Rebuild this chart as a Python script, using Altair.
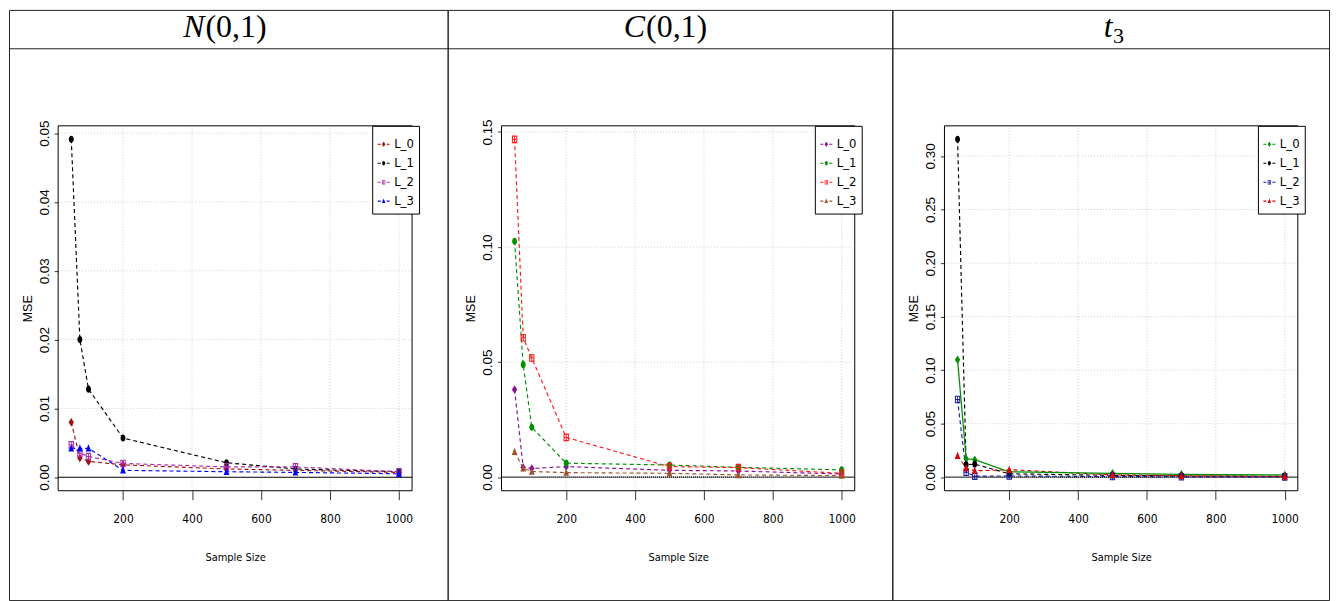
import altair as alt
import pandas as pd

# ---------------- data ----------------
sample_sizes = [50, 75, 100, 200, 500, 700, 1000]
series = ["L_0", "L_1", "L_2", "L_3"]
x_ticks = [200, 400, 600, 800, 1000]

# N(0,1)
normal_L0 = [0.0080, 0.0028, 0.0023, 0.0018, 0.0012, 0.0010, 0.0007]
normal_L1 = [0.0491, 0.0200, 0.0128, 0.0057, 0.0021, 0.0012, 0.0008]
normal_L2 = [0.0047, 0.0035, 0.0030, 0.0020, 0.0015, 0.0015, 0.0008]
normal_L3 = [0.0042, 0.0042, 0.0042, 0.0010, 0.0008, 0.0007, 0.0005]

# C(0,1)
cauchy_L0 = [0.0381, 0.0042, 0.0038, 0.0046, 0.0030, 0.0027, 0.0014]
cauchy_L1 = [0.1025, 0.0489, 0.0217, 0.0061, 0.0053, 0.0043, 0.0032]
cauchy_L2 = [0.1468, 0.0606, 0.0518, 0.0173, 0.0046, 0.0042, 0.0017]
cauchy_L3 = [0.0111, 0.0039, 0.0025, 0.0020, 0.0017, 0.0010, 0.0007]

# t_3
t3_L0 = [0.1098, 0.0172, 0.0164, 0.0050, 0.0037, 0.0027, 0.0022]
t3_L1 = [0.3155, 0.0118, 0.0122, 0.0032, 0.0018, 0.0012, 0.0008]
t3_L2 = [0.0726, 0.0046, 0.0010, 0.0012, 0.0006, 0.0004, 0.0003]
t3_L3 = [0.0200, 0.0085, 0.0060, 0.0070, 0.0022, 0.0014, 0.0008]

y_ticks_normal = [0.0, 0.01, 0.02, 0.03, 0.04, 0.05]
y_ticks_cauchy = [0.0, 0.05, 0.10, 0.15]
y_ticks_t3 = [0.0, 0.05, 0.10, 0.15, 0.20, 0.25, 0.30]

header_main = ["N", "C", "t"]
header_rest = ["(0,1)", "(0,1)", ""]
header_sub = ["", "", "3"]

# ---------------- styling / layout ----------------
NARROW = "Liberation Sans Narrow, DejaVu Sans Condensed, sans-serif"
SANS = "Liberation Sans, Arial, sans-serif"
SERIF = "Liberation Serif, Times New Roman, serif"

HEADER_H = 39
TOTAL_H = 592
BOX_TOP = 77.3 + HEADER_H
BOX_BOTTOM = 443.3 + HEADER_H
X_DOMAIN = [12, 1038]


def ellipse(rx, ry):
    return (f"M{-rx},0A{rx},{ry} 0 1,0 {rx},0A{rx},{ry} 0 1,0 {-rx},0Z")


def diamond(rx, ry):
    return f"M0,{-ry}L{rx},0L0,{ry}L{-rx},0Z"


def triangle(rx, ry):
    return f"M0,{-ry}L{rx},{ry * 0.8}L{-rx},{ry * 0.8}Z"


def sq_plus(rx, ry):
    ix, iy = rx * 0.62, ry * 0.7
    bx, by = rx * 0.16, ry * 0.13
    return (f"M{-rx},{-ry}H{rx}V{ry}H{-rx}Z"
            f"M{-ix},{-iy}V{iy}H{ix}V{-iy}Z"
            f"M{-bx},{-iy}H{bx}V{iy}H{-bx}Z"
            f"M{-ix},{-by}H{ix}V{by}H{-ix}Z")


POINT_SHAPES = [diamond(0.6, 0.95), ellipse(0.55, 0.8), sq_plus(0.6, 0.85), triangle(0.65, 0.9)]
DASHES = "M-1,-0.09H-0.5V0.09H-1Z M0.5,-0.09H1V0.09H0.5Z "
LEGEND_SHAPES = [DASHES + diamond(0.28, 0.45), DASHES + ellipse(0.25, 0.36),
                 DASHES + sq_plus(0.28, 0.38), DASHES + triangle(0.3, 0.42)]

panels = [
    dict(values=[normal_L0, normal_L1, normal_L2, normal_L3],
         colors=["#A01010", "#000000", "#A92CA9", "#0000FF"],
         solid=[], y_ticks=y_ticks_normal, cell_w=440, box=(49.3, 404.3),
         center=216, zero_dash=None),
    dict(values=[cauchy_L0, cauchy_L1, cauchy_L2, cauchy_L3],
         colors=["#8E0E9E", "#009000", "#FF1A1A", "#A0522D"],
         solid=[], y_ticks=y_ticks_cauchy, cell_w=446, box=(54.0, 408.3),
         center=218, zero_dash=[1, 1]),
    dict(values=[t3_L0, t3_L1, t3_L2, t3_L3],
         colors=["#009000", "#000000", "#1A1A9A", "#E00000"],
         solid=["L_0"], y_ticks=y_ticks_t3, cell_w=438, box=(52.3, 406.7),
         center=222, zero_dash=[1, 1]),
]


def header_layers(i, p):
    cw = p["cell_w"]
    c = p["center"]
    df = pd.DataFrame({"main": [header_main[i]], "rest": [header_rest[i]], "sub": [header_sub[i]]})
    base = alt.Chart(df)
    fs = 32
    by = 27
    sep = base.mark_rule(color="#222222", strokeWidth=1).encode(
        x=alt.value(0), x2=alt.value(cw), y=alt.value(HEADER_H))
    if header_rest[i]:
        total = 0.667 * fs + 1.916 * fs
        split = c - total / 2 + 0.667 * fs
        main = base.mark_text(font=SERIF, fontStyle="italic", fontSize=fs, align="right",
                              baseline="alphabetic", color="black").encode(
            text="main:N", x=alt.value(split), y=alt.value(by))
        rest = base.mark_text(font=SERIF, fontSize=fs, align="left", baseline="alphabetic",
                              color="black").encode(
            text="rest:N", x=alt.value(split + 1), y=alt.value(by))
        return [sep, main, rest]
    total = 0.278 * fs + 0.5 * 22
    split = c - total / 2 + 0.278 * fs
    main = base.mark_text(font=SERIF, fontStyle="italic", fontSize=fs, align="right",
                          baseline="alphabetic", color="black").encode(
        text="main:N", x=alt.value(split), y=alt.value(by))
    sub = base.mark_text(font=SERIF, fontSize=22, align="left", baseline="alphabetic",
                         color="black").encode(
        text="sub:N", x=alt.value(split + 0.5), y=alt.value(by + 6))
    return [sep, main, sub]


def make_column(i, p):
    cw = p["cell_w"]
    bx0, bx1 = p["box"]
    rows = []
    for s, vals in zip(series, p["values"]):
        for n, v in zip(sample_sizes, vals):
            rows.append({"n": n, "mse": v, "series": s})
    df = pd.DataFrame(rows)

    ymax = max(max(v) for v in p["values"])
    ylo, yhi = -0.04 * ymax, 1.04 * ymax

    xs = alt.Scale(domain=X_DOMAIN, range=[bx0, bx1], nice=False, zero=False)
    ys = alt.Scale(domain=[ylo, yhi], range=[BOX_BOTTOM, BOX_TOP], nice=False, zero=False)

    x_axis = alt.Axis(values=x_ticks, format="d", grid=False, domain=False, ticks=True,
                      tickSize=9, tickColor="#333", tickWidth=1,
                      labelPadding=14, labelFont=NARROW, labelFontSize=12, labelColor="black",
                      labelFlush=False, labelOverlap=False,
                      offset=BOX_BOTTOM - TOTAL_H,
                      title="Sample Size", titleFont=NARROW, titleFontSize=11,
                      titleFontWeight="normal", titleColor="black",
                      titleY=67, titleBaseline="middle")
    y_axis = alt.Axis(values=p["y_ticks"], format=".2f", grid=False, domain=False, ticks=True,
                      tickSize=4, tickColor="#333", tickWidth=1,
                      labelAngle=270, labelAlign="center", labelBaseline="alphabetic",
                      labelPadding=6, labelFont=SANS, labelFontSize=13.5, labelColor="black",
                      labelFlush=False, labelOverlap=False,
                      offset=-bx0,
                      title="MSE", titleFont=SANS, titleFontSize=12.5, titleFontWeight="normal",
                      titleColor="black", titleAngle=270, titleX=-31, titleBaseline="middle")

    cscale = alt.Scale(domain=series, range=p["colors"])

    legend = alt.Legend(orient="none", legendX=bx1 - 40, legendY=BOX_TOP, direction="vertical",
                        title=" ", titleFontSize=5, titlePadding=2, padding=5,
                        strokeColor="black", fillColor="white", symbolSize=144,
                        symbolStrokeWidth=0, labelFont=NARROW, labelFontSize=13,
                        labelOffset=4, rowPadding=5, labelColor="black", cornerRadius=0)

    X = alt.X("n:Q", scale=xs, axis=x_axis)
    Y = alt.Y("mse:Q", scale=ys, axis=y_axis)

    legend_layer = alt.Chart(df).transform_filter("false").mark_point(
        filled=True, opacity=1).encode(
        x=X, y=Y,
        color=alt.Color("series:N", scale=cscale, legend=legend),
        shape=alt.Shape("series:N", scale=alt.Scale(domain=series, range=LEGEND_SHAPES),
                        legend=legend))

    gx = pd.DataFrame({"gx": x_ticks, "y0": [ylo] * len(x_ticks), "y1": [yhi] * len(x_ticks)})
    grid_v = alt.Chart(gx).mark_rule(color="#D0D0D0", strokeDash=[1, 2], strokeWidth=1).encode(
        x=alt.X("gx:Q", scale=xs, axis=x_axis),
        y=alt.Y("y0:Q", scale=ys, axis=y_axis), y2="y1:Q")
    yt = [t for t in p["y_ticks"] if t != 0]
    gy = pd.DataFrame({"gy": yt, "x0": [X_DOMAIN[0]] * len(yt), "x1": [X_DOMAIN[1]] * len(yt)})
    grid_h = alt.Chart(gy).mark_rule(color="#D0D0D0", strokeDash=[1, 2], strokeWidth=1).encode(
        y=alt.Y("gy:Q", scale=ys, axis=y_axis),
        x=alt.X("x0:Q", scale=xs, axis=x_axis), x2="x1:Q")

    zdf = pd.DataFrame({"z": [0.0], "x0": [X_DOMAIN[0]], "x1": [X_DOMAIN[1]]})
    if p["zero_dash"]:
        zero_bg = alt.Chart(zdf).mark_rule(color="#AAAAAA", strokeWidth=1.6).encode(
            y=alt.Y("z:Q", scale=ys, axis=y_axis),
            x=alt.X("x0:Q", scale=xs, axis=x_axis), x2="x1:Q")
        zero = alt.Chart(zdf).mark_rule(color="black", strokeWidth=1.3,
                                        strokeDash=p["zero_dash"]).encode(
            y=alt.Y("z:Q", scale=ys, axis=y_axis),
            x=alt.X("x0:Q", scale=xs, axis=x_axis), x2="x1:Q")
        zero_layers = [zero_bg, zero]
    else:
        zero = alt.Chart(zdf).mark_rule(color="black", strokeWidth=1.2).encode(
            y=alt.Y("z:Q", scale=ys, axis=y_axis),
            x=alt.X("x0:Q", scale=xs, axis=x_axis), x2="x1:Q")
        zero_layers = [zero]

    dashed_series = [s for s in series if s not in p["solid"]]
    line_layers = []
    line_layers.append(
        alt.Chart(df).transform_filter(alt.FieldOneOfPredicate(field="series", oneOf=dashed_series))
        .mark_line(strokeDash=[4, 3], strokeWidth=1.15).encode(
            x=X, y=Y, color=alt.Color("series:N", scale=cscale, legend=None)))
    if p["solid"]:
        line_layers.append(
            alt.Chart(df).transform_filter(alt.FieldOneOfPredicate(field="series", oneOf=p["solid"]))
            .mark_line(strokeWidth=1.25).encode(
                x=X, y=Y, color=alt.Color("series:N", scale=cscale, legend=None)))

    points = alt.Chart(df).mark_point(filled=True, opacity=1, size=80, strokeWidth=0).encode(
        x=X, y=Y,
        color=alt.Color("series:N", scale=cscale, legend=None),
        shape=alt.Shape("series:N", scale=alt.Scale(domain=series, range=POINT_SHAPES),
                        legend=None))

    bdf = pd.DataFrame({"x0": [X_DOMAIN[0]], "x1": [X_DOMAIN[1]], "y0": [ylo], "y1": [yhi]})
    box = alt.Chart(bdf).mark_rect(fillOpacity=0, stroke="black", strokeWidth=1).encode(
        x=alt.X("x0:Q", scale=xs, axis=x_axis), x2="x1:Q",
        y=alt.Y("y0:Q", scale=ys, axis=y_axis), y2="y1:Q")

    layers = ([legend_layer, grid_v, grid_h] + zero_layers + line_layers + [points, box]
              + header_layers(i, p))
    return alt.layer(*layers).resolve_scale(color="independent", shape="independent").properties(
        width=cw, height=TOTAL_H)


columns = [make_column(i, p) for i, p in enumerate(panels)]

chart = alt.hconcat(*columns, spacing=0, bounds="flush").properties(
    padding=0, background="white"
).configure_view(stroke="#222222", strokeWidth=1)

chart.save("out.html", embed_options={"renderer": "svg", "actions": False})
